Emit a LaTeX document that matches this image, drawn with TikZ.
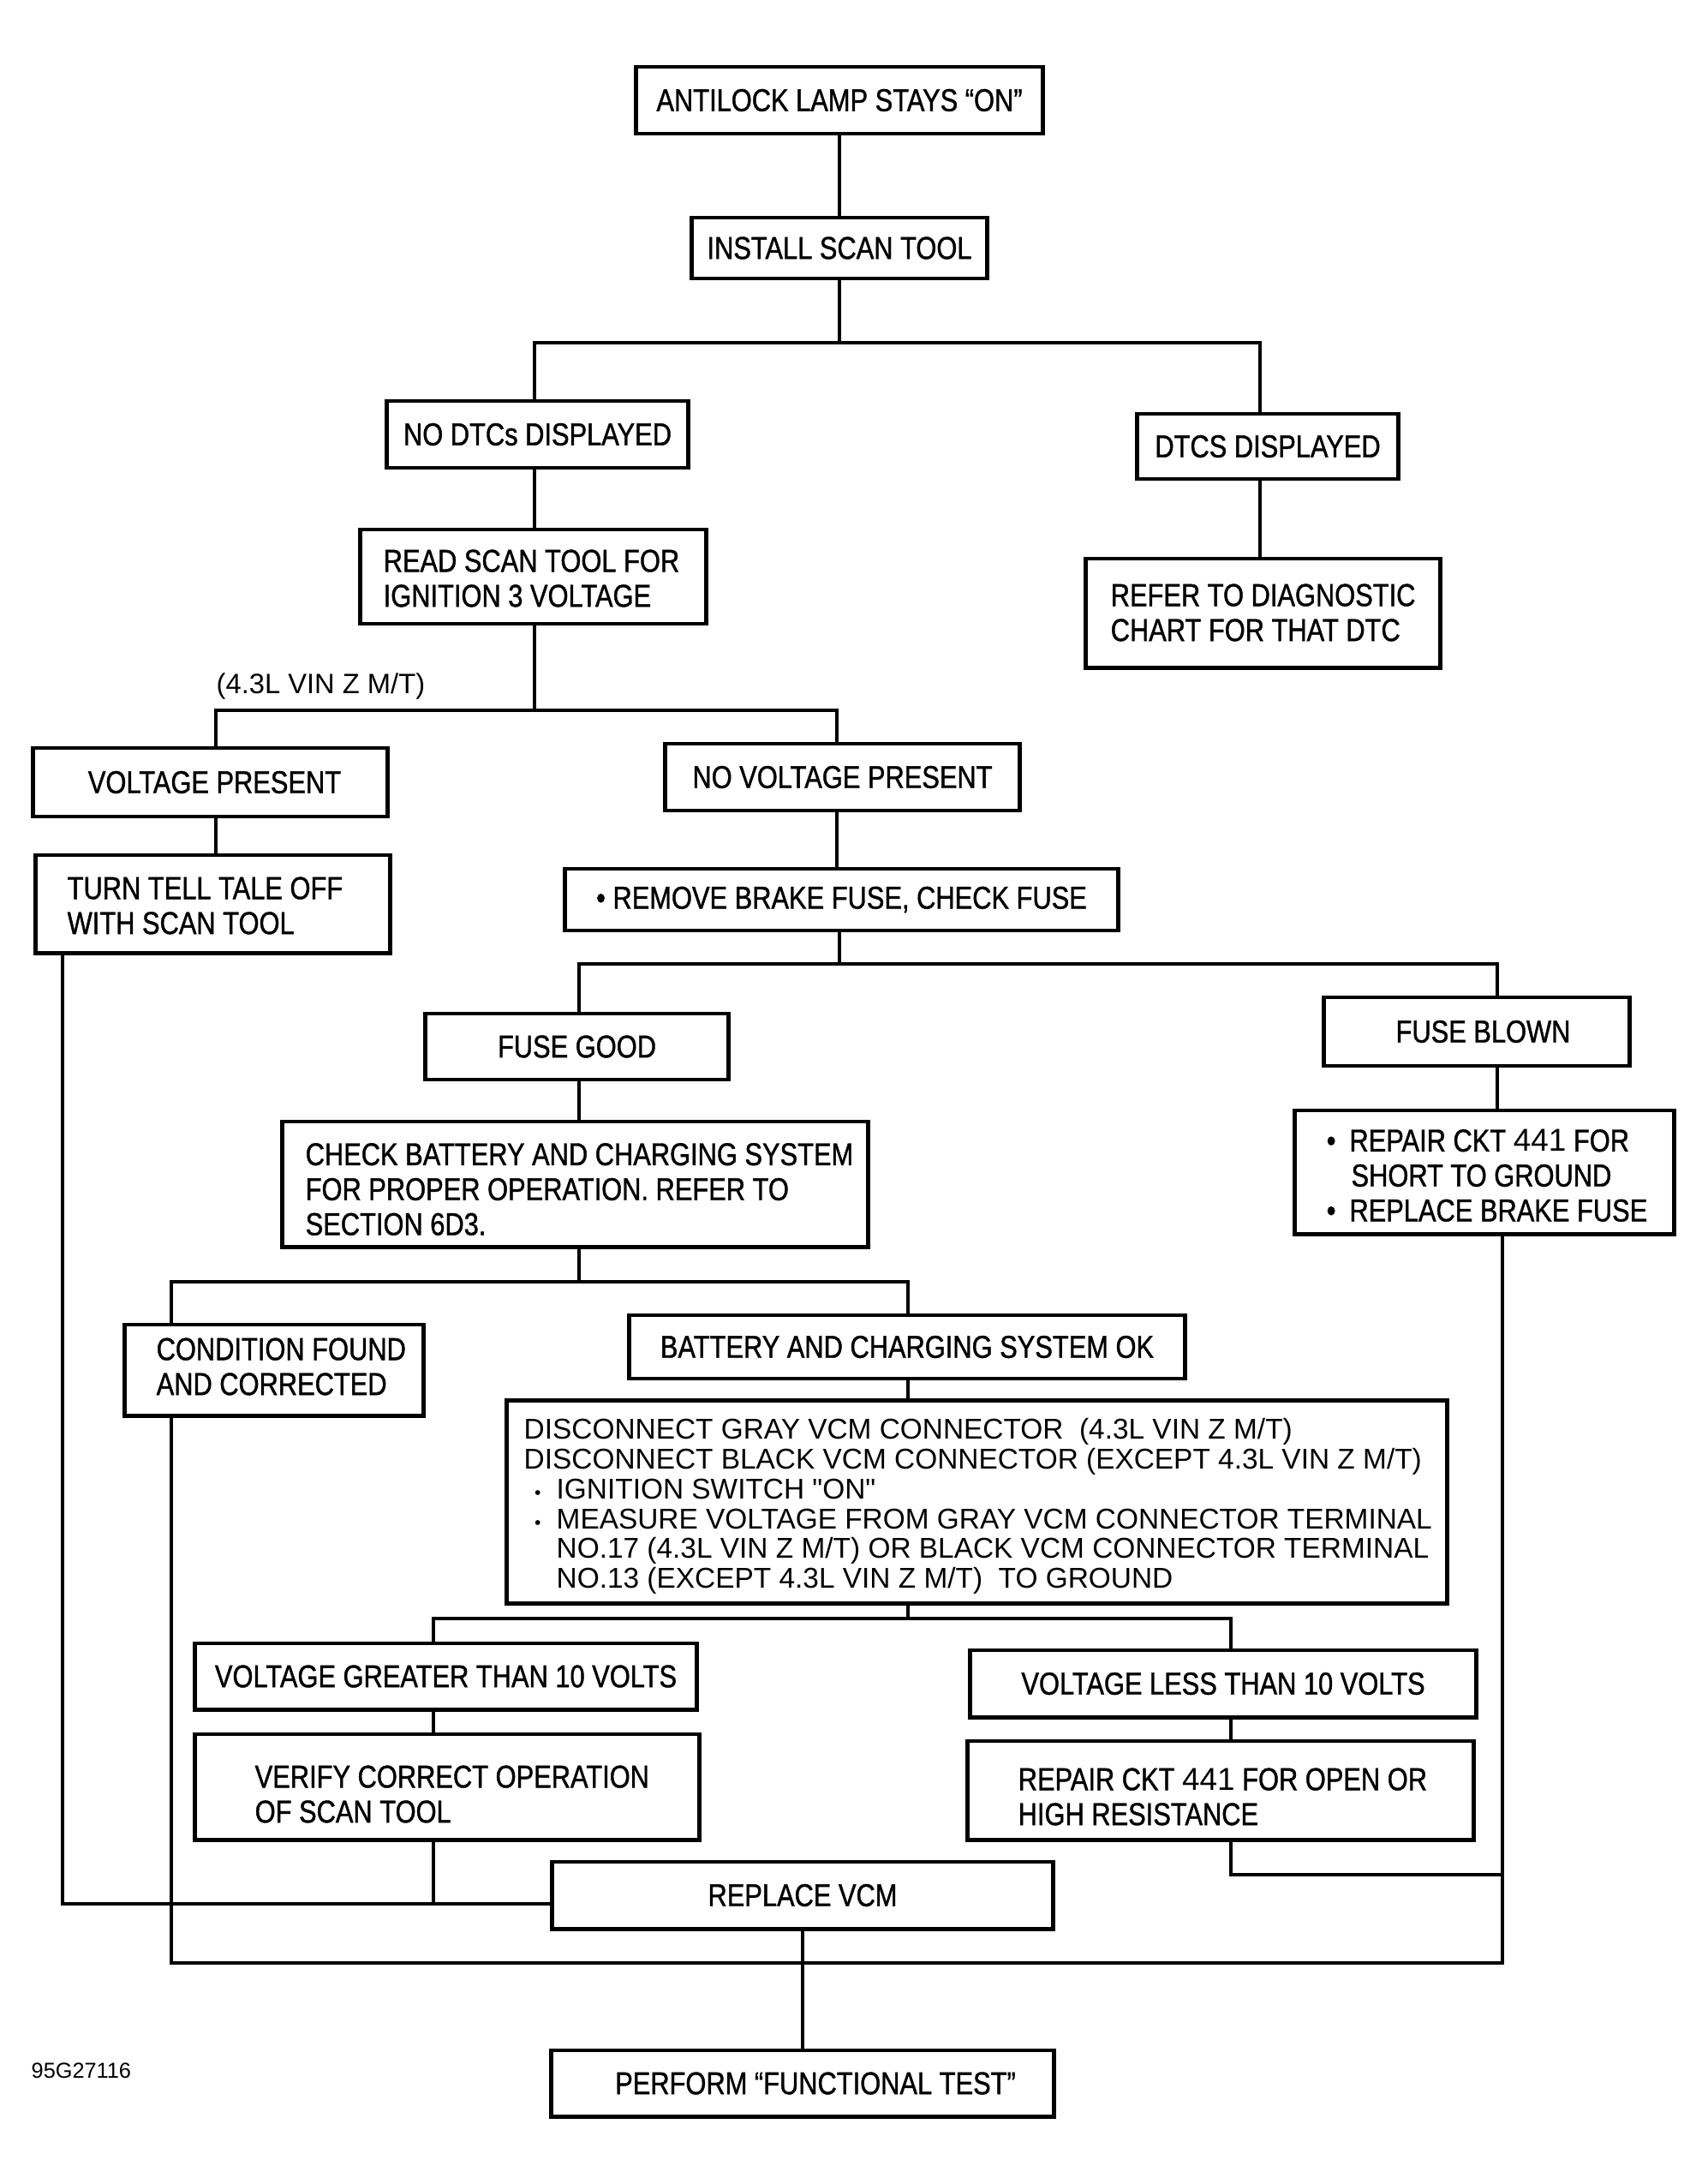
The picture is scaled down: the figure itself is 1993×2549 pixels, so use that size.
\documentclass[tikz,border=0pt]{standalone}
\usepackage{fontspec}
\setmainfont{Liberation Sans}[FakeStretch=0.835,FakeBold=1.1]
\newfontfamily\thinfont{Liberation Sans}
\newcommand\mainsz{\fontsize{10.5}{11.6}\selectfont}
\newcommand\smallbul{{\fontsize{6}{6}\selectfont\textbullet}}
\begin{document}
\begin{tikzpicture}[x=0.01cm,y=-0.01cm,
  box/.style={draw, line width=1.4pt, inner sep=0pt, font=\mainsz, align=center},
  txt/.style={inner sep=0pt, align=left, font=\mainsz, anchor=west},
  conn/.style={line width=1.2pt},
  thin/.style={inner sep=0pt, align=left, anchor=west, font=\thinfont\fontsize{9.5}{9.9}\selectfont}]
\useasboundingbox (0,0) rectangle (1993,2549);

% boxes
\node[box, minimum width=4.75cm, minimum height=0.78cm] (a1) at (980,117) {ANTILOCK LAMP STAYS “ON”};
\node[box, minimum width=3.44cm, minimum height=0.71cm] (a2) at (980,289.5) {INSTALL SCAN TOOL};
\node[box, minimum width=3.51cm, minimum height=0.78cm] (a3) at (627.5,507) {NO DTCs DISPLAYED};
\node[box, minimum width=3.04cm, minimum height=0.76cm] (a4) at (1480,521) {DTCS DISPLAYED};
\node[box, minimum width=4.03cm, minimum height=1.10cm] (a5) at (622.5,673) {};
\node[txt] (t5) at (447,675) {READ SCAN TOOL FOR\\IGNITION 3 VOLTAGE};
\node[box, minimum width=4.13cm, minimum height=1.27cm] (a6) at (1474.5,715.5) {};
\node[txt] (t6) at (1296,715) {REFER TO DIAGNOSTIC\\CHART FOR THAT DTC};
\node[box, minimum width=4.13cm, minimum height=0.80cm] (a8) at (245.5,913) {\hspace*{0.1cm}VOLTAGE PRESENT};
\node[box, minimum width=4.13cm, minimum height=0.78cm] (a9) at (983.5,907) {NO VOLTAGE PRESENT};
\node[box, minimum width=4.13cm, minimum height=1.14cm] (a10) at (248.5,1055) {};
\node[txt] (t10) at (78,1057) {TURN TELL TALE OFF\\WITH SCAN TOOL};
\node[box, minimum width=6.45cm, minimum height=0.72cm] (a11) at (982.5,1050) {\textbullet\ REMOVE BRAKE FUSE, CHECK FUSE};
\node[box, minimum width=3.53cm, minimum height=0.77cm] (a13) at (673.5,1221.5) {FUSE GOOD};
\node[box, minimum width=3.56cm, minimum height=0.80cm] (a14) at (1724,1204) {\hspace*{0.15cm}FUSE BLOWN};
\node[box, minimum width=6.83cm, minimum height=1.46cm] (a15) at (671.5,1382) {};
\node[txt] (t15) at (356,1388) {CHECK BATTERY AND CHARGING SYSTEM\\FOR PROPER OPERATION. REFER TO\\SECTION 6D3.};
\node[box, minimum width=4.42cm, minimum height=1.44cm] (a16) at (1733,1368) {};
\node[txt] (t16) at (1548,1372) {\makebox[7.6pt][l]{\textbullet}REPAIR CKT {\thinfont 441} FOR\\\hspace*{8.2pt}SHORT TO GROUND\\\makebox[7.6pt][l]{\textbullet}REPLACE BRAKE FUSE};
\node[box, minimum width=3.48cm, minimum height=1.06cm] (a18) at (320,1599) {};
\node[txt] (t18) at (182,1595) {CONDITION FOUND\\AND CORRECTED};
\node[box, minimum width=6.48cm, minimum height=0.74cm] (a19) at (1059,1572) {BATTERY AND CHARGING SYSTEM OK};
\node[box, minimum width=10.97cm, minimum height=2.36cm] (a20) at (1140.5,1753) {};
\node[thin] (t20) at (611,1758) {DISCONNECT GRAY VCM CONNECTOR\ \ (4.3L VIN Z M/T)\\
DISCONNECT BLACK VCM CONNECTOR (EXCEPT 4.3L VIN Z M/T)\\
\makebox[10.8pt][l]{\hspace{3.5pt}\smallbul}IGNITION SWITCH "ON"\\
\makebox[10.8pt][l]{\hspace{3.5pt}\smallbul}MEASURE VOLTAGE FROM GRAY VCM CONNECTOR TERMINAL\\
\hspace*{10.8pt}NO.17 (4.3L VIN Z M/T) OR BLACK VCM CONNECTOR TERMINAL\\
\hspace*{10.8pt}NO.13 (EXCEPT 4.3L VIN Z M/T)\ \ TO GROUND};
\node[box, minimum width=5.85cm, minimum height=0.77cm] (a22) at (520.5,1956.5) {VOLTAGE GREATER THAN 10 VOLTS};
\node[box, minimum width=5.90cm, minimum height=0.78cm] (a23) at (1428,1965) {VOLTAGE LESS THAN 10 VOLTS};
\node[box, minimum width=5.88cm, minimum height=1.23cm] (a24) at (522,2085.5) {};
\node[txt] (t24) at (297,2094) {VERIFY CORRECT OPERATION\\OF SCAN TOOL};
\node[box, minimum width=5.90cm, minimum height=1.15cm] (a25) at (1425,2089.5) {};
\node[txt] (t25) at (1188,2097) {REPAIR CKT {\thinfont 441} FOR OPEN OR\\HIGH RESISTANCE};
\node[box, minimum width=5.85cm, minimum height=0.78cm] (a26) at (937,2212) {REPLACE VCM};
\node[box, minimum width=5.87cm, minimum height=0.77cm] (a27) at (937,2431.5) {\hspace*{0.3cm}PERFORM “FUNCTIONAL TEST”};

\node[inner sep=0pt, anchor=west, font=\thinfont\fontsize{9.3}{9.3}\selectfont] (lbl) at (252,801) {(4.3L VIN Z M/T)};
\node[inner sep=0pt, anchor=west, font=\thinfont\fontsize{7.2}{7.2}\selectfont] (code) at (36,2417) {95G27116};

% connectors
\coordinate (j1) at (980,400); \coordinate (j1l) at (624,400); \coordinate (j1r) at (1471,400);
\draw[conn] (a1.south) -- (a2.north);
\draw[conn] (a2.south) -- (j1);
\draw[conn] (a3.north -| j1l) -- (j1l) -- (j1r) -- (a4.north -| j1r);
\draw[conn] (a3.south -| j1l) -- (a5.north -| j1l);
\draw[conn] (a4.south -| j1r) -- (a6.north -| j1r);

\coordinate (j2) at (624,829); \coordinate (j2l) at (252,829); \coordinate (j2r) at (977,829);
\draw[conn] (a5.south -| j2) -- (j2);
\draw[conn] (a8.north -| j2l) -- (j2l) -- (j2r) -- (a9.north -| j2r);
\draw[conn] (a8.south -| j2l) -- (a10.north -| j2l);
\draw[conn] (a9.south -| j2r) -- (a11.north -| j2r);

\coordinate (j3) at (980,1125); \coordinate (j3l) at (676,1125); \coordinate (j3r) at (1748,1125);
\draw[conn] (a11.south -| j3) -- (j3);
\draw[conn] (a13.north -| j3l) -- (j3l) -- (j3r) -- (a14.north -| j3r);
\draw[conn] (a13.south -| j3l) -- (a15.north -| j3l);
\draw[conn] (a14.south -| j3r) -- (a16.north -| j3r);

\coordinate (j4) at (676,1496); \coordinate (j4l) at (200,1496); \coordinate (j4r) at (1060,1496);
\draw[conn] (a15.south -| j4) -- (j4);
\draw[conn] (a18.north -| j4l) -- (j4l) -- (j4r) -- (a19.north -| j4r);
\draw[conn] (a19.south -| j4r) -- (a20.north -| j4r);

\coordinate (j5) at (1060,1889); \coordinate (j5l) at (506,1889); \coordinate (j5r) at (1437,1889);
\draw[conn] (a20.south -| j5) -- (j5);
\draw[conn] (a22.north -| j5l) -- (j5l) -- (j5r) -- (a23.north -| j5r);
\draw[conn] (a22.south -| j5l) -- (a24.north -| j5l);
\draw[conn] (a23.south -| j5r) -- (a25.north -| j5r);

\coordinate (b1) at (73,2222); \coordinate (b2) at (506,2222);
\draw[conn] (a10.south -| b1) -- (b1) -- (b1 -| a26.west);
\draw[conn] (a24.south -| b2) -- (b2);
\coordinate (c1) at (200,2291); \coordinate (c2) at (1754,2291);
\draw[conn] (a18.south -| c1) -- (c1) -- (c2) -- (a16.south -| c2);
\coordinate (d1) at (1437,2188);
\draw[conn] (a25.south -| d1) -- (d1) -- (d1 -| c2);
\draw[conn] (a26.south) -- (a27.north);
\end{tikzpicture}
\end{document}
